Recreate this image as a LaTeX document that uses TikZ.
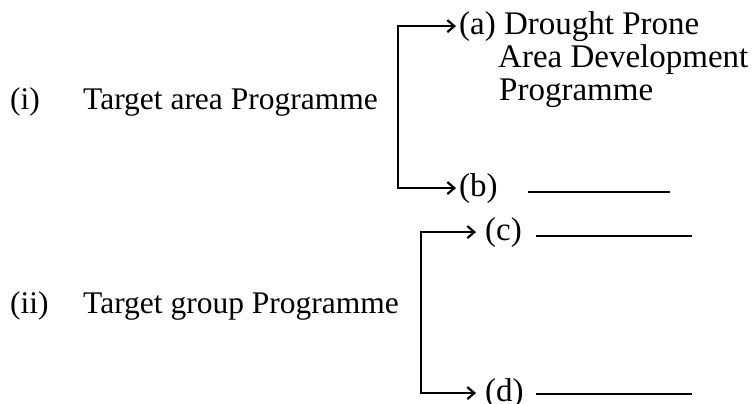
\documentclass[tikz,border=0pt]{standalone}
\usepackage{fontspec}
\setmainfont{Liberation Serif}
\usetikzlibrary{arrows.meta}
\tikzset{mytip/.tip={Straight Barb[length=7bp,width=12bp,line width=2.2bp]}}
\begin{document}
\begin{tikzpicture}[x=1bp,y=-1bp,
  lbl/.style={anchor=base west, inner sep=0pt, font=\fontsize{33bp}{35bp}\selectfont},
  lbll/.style={lbl, font=\fontsize{31.5bp}{34bp}\selectfont},
  bracket/.style={line width=2bp, line join=miter, {mytip}-{mytip}},
  blank/.style={line width=1.8bp}]
\useasboundingbox (0,0) rectangle (756,403);
% left labels
\node[lbll] (n1) at (10,109) {(i)};
\node[lbll] (t1) at (83,109) {Target area Programme};
\node[lbll] (n2) at (10,313) {(ii)};
\node[lbll] (t2) at (83,313) {Target group Programme};
% first group
\node[lbl] (a) at (459,34) {(a) Drought Prone};
\node[lbl] (a2) at (498,67) {Area Development};
\node[lbl] (a3) at (499,100) {Programme};
\node[lbl] (b) at (459,196) {(b)};
\coordinate (br1) at (398,100);
\draw[bracket] ([xshift=-3bp]a.west) -| (br1) |- ([xshift=-3bp]b.west);
\coordinate (bl1) at (528,192);
\coordinate (bl2) at (670,192);
\draw[blank] (bl1) -- (bl2);
% second group
\node[lbl] (c) at (485,240) {(c)};
\node[lbl] (d) at (485,401) {(d)};
\coordinate (br2) at (421,300);
\draw[bracket] ([xshift=-9bp]c.west) -| (br2) |- ([xshift=-9bp]d.west);
\coordinate (cl1) at (536,236);
\coordinate (cl2) at (692,236);
\draw[blank] (cl1) -- (cl2);
\coordinate (dl1) at (536,394);
\coordinate (dl2) at (692,394);
\draw[blank] (dl1) -- (dl2);
\end{tikzpicture}
\end{document}
